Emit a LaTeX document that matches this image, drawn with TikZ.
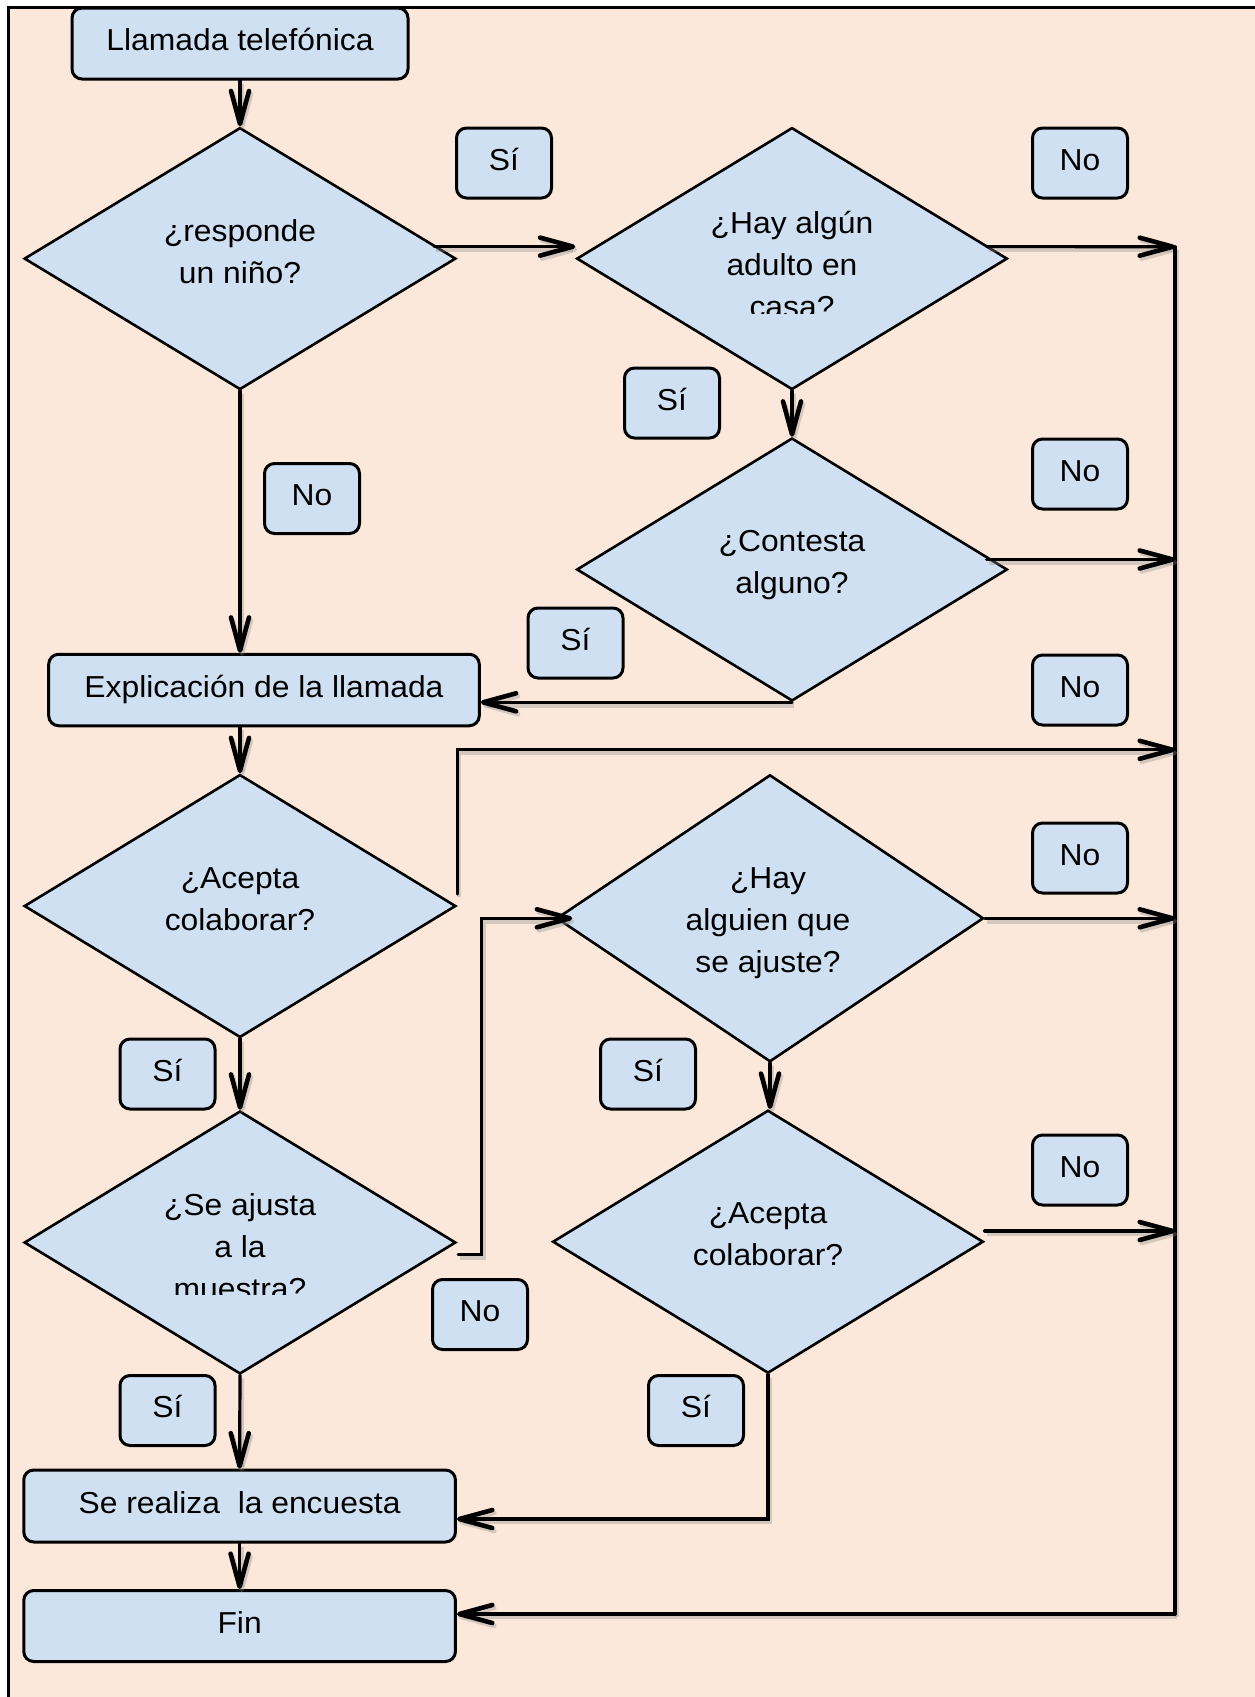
\documentclass[tikz,border=0pt]{standalone}
\usepackage{fontspec}
\setmainfont{Liberation Sans}[FakeStretch=1.05]
\usetikzlibrary{shapes.geometric,arrows.meta,calc}
\definecolor{peach}{RGB}{252,232,218}
\definecolor{paleblue}{RGB}{207,224,242}
% strut that fixes the top of the first and the bottom of the last line
\newcommand\qstrut{\rule[-12pt]{0pt}{41pt}}

\begin{document}
\begin{tikzpicture}[x=1pt,y=-1pt,
  font=\fontsize{30.3}{42}\selectfont,
  box/.style={draw, line width=3pt, rounded corners=10pt, fill=paleblue,
    minimum height=71pt, text height=22pt, text depth=8pt, inner sep=0pt},
  tag/.style={box, minimum width=95pt, minimum height=70pt},
  decision/.style={diamond, draw, line width=2.6pt, fill=paleblue, inner sep=0pt},
  qtext/.style={align=center, inner sep=0pt},
  link/.style={line width=3.2pt, line cap=round,
    preaction={draw=black!45, opacity=0.35, line width=4.5pt,
      transform canvas={shift={(2pt,-3pt)}}}},
  flow/.style={link, -{Straight Barb[length=33pt,width=18pt,line width=4.6pt,round]}}]

\useasboundingbox (0,0) rectangle (1255,1697);
\fill[peach] (8,7) rectangle (1255,1697);
\draw[line width=3pt] (8,1697) -- (8,7) -- (1255,7);

% process boxes
\node[box, minimum width=336pt] (call) at (240,43.5) {Llamada telefónica};
\node[box, minimum width=430.6pt, minimum height=71.5pt] (explain) at (264,690) {Explicación de la llamada};
\node[box, minimum width=431.7pt, minimum height=72pt] (survey) at (239.6,1506) {Se realiza\ \ la encuesta};
\node[box, minimum width=431.7pt] (end) at (239.6,1626) {Fin};

% decisions
\node[decision, minimum width=431.7pt, minimum height=262pt] (d1) at (240,258.6) {};
\node[decision, minimum width=430.7pt, minimum height=262pt] (d2) at (792,258.6) {};
\node[decision, minimum width=430.7pt, minimum height=263pt] (d3) at (792,569.5) {};
\node[decision, minimum width=431.7pt, minimum height=263pt] (d4) at (240,906) {};
\node[decision, minimum width=427pt, minimum height=287pt] (d5) at (770,918.3) {};
\node[decision, minimum width=431.7pt, minimum height=263pt] (d6) at (240,1242.5) {};
\node[decision, minimum width=430.7pt, minimum height=263pt] (d7) at (768,1241.7) {};

\node[qtext] (q1) at (240,253.5) {\qstrut¿responde\\un niño?\qstrut};
\begin{scope}
  \clip (600,150) rectangle (990,313.3);
  \node[qtext] (q2) at (792,266.8) {\qstrut¿Hay algún\\adulto en\\casa?\qstrut};
\end{scope}
\node[qtext] (q3) at (792,564) {\qstrut¿Contesta\\alguno?\qstrut};
\node[qtext] (q4) at (240,900.5) {\qstrut¿Acepta\\colaborar?\qstrut};
\node[qtext] (q5) at (768,921.8) {\qstrut¿Hay\\alguien que\\se ajuste?\qstrut};
\begin{scope}
  \clip (50,1150) rectangle (430,1294.5);
  \node[qtext] (q6) at (240,1248.5) {\qstrut¿Se ajusta\\a la\\muestra?\qstrut};
\end{scope}
\node[qtext] (q7) at (768,1235.5) {\qstrut¿Acepta\\colaborar?\qstrut};

% answer tags
\node[tag] (yes1) at (504,163) {Sí};
\node[tag] (no1) at (1080,163) {No};
\node[tag] (yes2) at (672,403) {Sí};
\node[tag] (no2) at (1080,474) {No};
\node[tag] (yes3) at (575.5,643) {Sí};
\node[tag] (no3) at (312,498.5) {No};
\node[tag] (no4) at (1080,690) {No};
\node[tag] (no5) at (1080,858) {No};
\node[tag] (yes4) at (167.5,1074) {Sí};
\node[tag] (yes5) at (648,1074) {Sí};
\node[tag] (no6) at (1080,1170) {No};
\node[tag] (no7) at (480,1314.5) {No};
\node[tag] (yes6) at (696,1410.5) {Sí};
\node[tag] (yes7) at (167.5,1410.5) {Sí};

% right-hand collector line
\coordinate (rtop) at (1175,246.7);
\coordinate (rbot) at (1175,1614);
\coordinate (lane4) at (0,749.8);
\coordinate (s1) at ($(d1.east)+(-23,-12)$);
\coordinate (s2) at ($(d2.east)+(-22,-12)$);
\coordinate (s3) at ($(d3.east)+(-22,-10)$);
\coordinate (s4) at ($(d4.east)+(0,-12)$);
\coordinate (s6) at ($(d6.east)+(1,12)$);
\coordinate (s7) at ($(d7.east)+(0,-10.7)$);
\coordinate (p7) at ($(d7.south)+(0,144.5)$);

% connectors
\draw[flow] (call.south) -- (d1.north);
\draw[flow] (s1) -- (s1 -| d2.west);
\draw[flow] (s2) -- (rtop);
\draw[link] (rtop) -- (rbot);
\draw[flow] (rbot) -- (rbot -| end.east);
\draw[flow] (d2.south) -- (d3.north);
\draw[flow] (s3) -- (s3 -| rtop);
\draw[flow] (d3.south) -- (d3.south -| explain.east);
\draw[flow] (d1.south) -- (d1.south |- explain.north);
\draw[flow] (explain.south -| d4.north) -- (d4.north);
\draw[flow] (s4) -- (s4 |- lane4) -- (lane4 -| rtop);
\draw[flow] (d5.east) -- (d5.east -| rtop);
\draw[flow] (s6) -- ++(23.3,0) |- ($(d5.west)+(17,0)$);
\draw[flow] (d4.south) -- (d6.north);
\draw[flow] (d5.south) -- (d5.south |- d7.north);
\draw[flow] (s7) -- (s7 -| rtop);
\draw[flow] (d7.south) -- (p7) -- (p7 -| survey.east);
\draw[flow] (d6.south) -- (survey.north);
\draw[flow] (survey.south) -- (end.north);
\end{tikzpicture}
\end{document}
